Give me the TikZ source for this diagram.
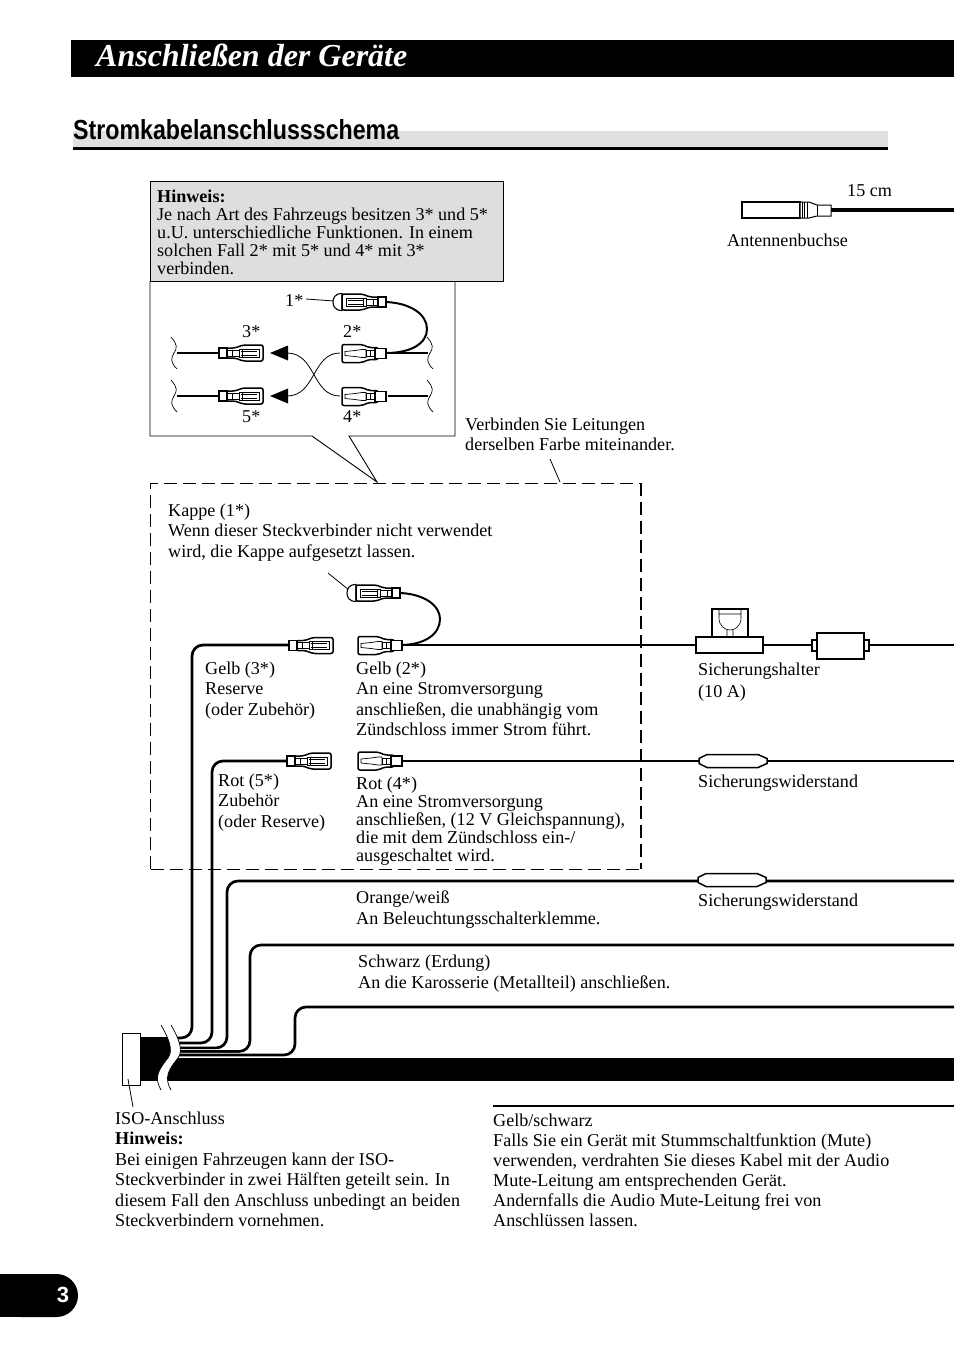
\documentclass[tikz,border=0pt]{standalone}
\usepackage{fontspec}
\usepackage{graphicx}
\setmainfont{Liberation Serif}
\newfontfamily\hsans{Liberation Sans}
\newcommand\mystrut{\rule{0pt}{13pt}}
\newcommand\tx[5]{\node[txt,font={\fontsize{18.1}{#4}\selectfont}] (#1) at (#2,{#3-7}) {\mystrut #5};}
\tikzset{
 x=1pt,y=-1pt,
 txt/.style={anchor=north west,inner sep=0pt,align=left},
 wire/.style={line width=2.7pt,rounded corners=11pt},
 cased/.style={wire,preaction={draw=white,line width=4.3pt}},
 plugline/.style={line width=1.5pt,fill=white,rounded corners=2pt},
 plugin/.style={line width=.7pt},
 plugF/.pic={
  \draw[plugline] (0,-9) -- (20,-9) -- (27,-6) -- (36,-6) -- (36,6) -- (27,6) -- (20,9) -- (0,9) -- cycle;
  \draw[plugline,rounded corners=0pt] (33,-5) rectangle (44,5);
  \draw[plugin] (3,-2) -- (13,-3) -- (20,-4) -- (24,-4) -- (24,4) -- (20,4) -- (13,3) -- (3,2) -- cycle;
  \draw[plugin] (24,-3) rectangle (33,3) (28,-3) -- (28,3);
 },
 plugM/.pic={
  \draw[plugline] (44,-8) -- (24,-8) -- (16,-5) -- (7,-5) -- (7,5) -- (16,5) -- (24,8) -- (44,8) -- cycle;
  \draw[plugline,rounded corners=0pt] (0,-5) rectangle (8,5);
  \draw[plugin] (8,-3) rectangle (20,3) (13,-3) -- (13,3) (20,-4) rectangle (40,4) (22,-2) -- (38,-2) (22,2) -- (38,2) (23,-4) -- (23,4);
 },
 squig/.pic={
  \draw[line width=.7pt] (-3,-16) .. controls (4,-8) and (3,-5) .. (0,0) .. controls (-3,5) and (-4,9) .. (3,16);
 },
 resist/.pic={
  \draw[line width=1.5pt,fill=white] (0,-2.5) -- (0,2.5) -- (8,6.5) -- (59,6.5) -- (68,2.5) -- (68,-2.5) -- (59,-6.5) -- (8,-6.5) -- cycle;
 },
}
\begin{document}
\begin{tikzpicture}
\useasboundingbox (0,0) rectangle (954,1355);
\fill[white] (0,0) rectangle (954,1355);
% title
\fill[black] (71,40) rectangle (954,77);
\node[txt,anchor=base west,text=white,font={\fontsize{32}{36}\selectfont\bfseries\itshape}] (title) at (96,66) {Anschließen der Geräte};
% heading
\fill[black!12] (73,131) rectangle (888,147);
\draw[line width=3pt] (73,148.5) -- (888,148.5);
\node[txt,anchor=base west] (head) at (73,139) {\resizebox{326pt}{20pt}{\hsans\bfseries Stromkabelanschlussschema}};
% note and callout
\draw[line width=.9pt,fill=white] (150,281) -- (150,436) -- (312,436) -- (377,482) -- (349,436) -- (455,436) -- (455,281);
\draw[line width=.9pt,fill=black!13] (150,181) rectangle (503,281);
\tx{note}{157}{196}{18}{\textbf{Hinweis:}\\Je nach Art des Fahrzeugs besitzen 3* und 5*\\u.U. unterschiedliche Funktionen. In einem\\solchen Fall 2* mit 5* und 4* mit 3*\\verbinden.}
% inset cables
\coordinate (sq3) at (174,353); \coordinate (sq5) at (174,396);
\coordinate (sq2) at (430,353); \coordinate (sq4) at (430,396);
\draw[line width=2.2pt] (177,353) -- (219,353) (177,396) -- (219,396) (388,396) -- (428,396) (388,353) -- (428,353);
\pic at (sq3) {squig}; \pic at (sq5) {squig}; \pic at (sq2) {squig}; \pic at (sq4) {squig};
\draw[line width=2pt] (386,302) .. controls (410,303) and (427,314) .. (427,329) .. controls (427,344) and (410,353) .. (386,353);
\draw[line width=.8pt] (306,299) -- (334,301);
\pic at (219,353) {plugM};
\pic at (219,396) {plugM};
\pic at (342,353.5) {plugF};
\pic at (342,396.5) {plugF};
\draw[line width=1.1pt,fill=white] (342,293.5) .. controls (335,293.5) and (333,298) .. (333,302) .. controls (333,306) and (335,310.5) .. (342,310.5) -- cycle;
\pic[xscale=-1] at (386,302) {plugM};
\draw[line width=.8pt] (340,353) .. controls (312,353) and (316,396) .. (287,396);
\draw[line width=.8pt] (340,396) .. controls (312,396) and (316,353) .. (287,353);
\fill (270,353) -- (288,345.5) -- (288,360.5) -- cycle;
\fill (270,396) -- (288,388.5) -- (288,403.5) -- cycle;
\tx{one}{285}{300}{20}{1*}
\tx{three}{242}{331}{20}{3*}
\tx{two}{343}{331}{20}{2*}
\tx{five}{242}{416}{20}{5*}
\tx{four}{343}{416}{20}{4*}
% antenna
\draw[line width=4pt] (830,210) -- (954,210);
\draw[line width=1.2pt,fill=white] (742,202) rectangle (800,218);
\draw[line width=1pt,fill=white] (800,202) -- (809,202) -- (817,205) -- (831,205) -- (831,216) -- (817,216) -- (809,218) -- (800,218) -- cycle;
\draw[line width=.7pt] (802,202) -- (802,218) (804.5,202) -- (804.5,218) (807,202) -- (807,218) (817,205) -- (817,216);
\tx{cm}{847}{190}{20}{15 cm}
\tx{antb}{727}{240}{20}{Antennenbuchse}
\tx{verb}{465}{424}{20}{Verbinden Sie Leitungen\\derselben Farbe miteinander.}
\draw[line width=.8pt] (550,459) -- (560,482);
\tx{kappe}{168}{510}{20.5}{Kappe (1*)\\Wenn dieser Steckverbinder nicht verwendet\\wird, die Kappe aufgesetzt lassen.}
% cable wires
\draw[cased] (290,645) -- (192,645) -- (192,1038) -- (172,1038);
\draw[cased] (288,761) -- (212,761) -- (212,1043) -- (172,1043);
\draw[cased] (954,881) -- (227,881) -- (227,1048) -- (172,1048);
\draw[cased] (954,945) -- (250,945) -- (250,1051.5) -- (172,1051.5);
\draw[cased] (954,1007) -- (295,1007) -- (295,1055) -- (172,1055);
% dashed box
\draw[line width=.9pt,dash pattern=on 13pt off 6pt] (150.5,869) -- (150.5,483) -- (641,483);
\draw[line width=.9pt,dash pattern=on 13pt off 6pt] (150.5,869) -- (641,869);
\draw[line width=1.5pt,dash pattern=on 13pt off 6pt] (641,483) -- (641,869);
% main cable
\fill[black] (140,1037) rectangle (172,1081);
\fill[black] (165,1058) rectangle (954,1081);
\fill[white] (161,1025) .. controls (168,1037) and (174,1050) .. (168,1058) .. controls (158,1070) and (154,1078) .. (161,1090) -- (171,1090) .. controls (164,1078) and (168,1070) .. (178,1058) .. controls (184,1050) and (178,1037) .. (171,1025) -- cycle;
\draw[line width=.7pt] (161,1025) .. controls (168,1037) and (174,1050) .. (168,1058) .. controls (158,1070) and (154,1078) .. (161,1090);
\draw[line width=.7pt] (171,1025) .. controls (178,1037) and (184,1050) .. (178,1058) .. controls (168,1070) and (164,1078) .. (171,1090);
\draw[line width=1pt,fill=white] (122,1033) rectangle (140,1085);
\draw[line width=.8pt] (128,1079) -- (133,1107);
% connectors in dashed box
\draw[line width=2pt] (400,593) .. controls (425,594) and (440,606) .. (440,619) .. controls (440,634) and (425,645) .. (400,645);
\draw[wire] (400,645) -- (954,645);
\draw[wire] (400,761) -- (954,761);
\draw[line width=.8pt] (328,573) -- (349,590);
\pic at (289,645.5) {plugM};
\pic at (358,645.5) {plugF};
\pic at (287,761) {plugM};
\pic at (358,761) {plugF};
\draw[line width=1.1pt,fill=white] (356,584.5) .. controls (349,584.5) and (347,589) .. (347,593) .. controls (347,597) and (349,601.5) .. (356,601.5) -- cycle;
\pic[xscale=-1] at (400,593) {plugM};
% fuse holder
\draw[line width=1.5pt,fill=white] (712,609) rectangle (748,637);
\draw[line width=.6pt] (719,609) -- (719,618) .. controls (719,626) and (725,630) .. (730,630) .. controls (735,630) and (741,626) .. (741,618) -- (741,609) (719,614) -- (741,614) (727,630) -- (727,637) (733,630) -- (733,637);
\draw[line width=1.5pt,fill=white] (696,637) rectangle (763,653);
\draw[line width=1.3pt,fill=white] (812,640) rectangle (869,651);
\draw[line width=1.5pt,fill=white] (817,633) rectangle (864,659);
% resistors
\pic at (699,761) {resist};
\pic at (698,880) {resist};
% labels
\tx{gelbd}{205}{668}{20.5}{Gelb (3*)\\Reserve\\(oder Zubehör)}
\tx{gelbz}{356}{668}{20.5}{Gelb (2*)\\An eine Stromversorgung\\anschließen, die unabhängig vom\\Zündschloss immer Strom führt.}
\tx{halter}{698}{669}{22}{Sicherungshalter\\(10 A)}
\tx{rotf}{218}{780}{20.5}{Rot (5*)\\Zubehör\\(oder Reserve)}
\tx{rotv}{356}{783}{18}{Rot (4*)\\An eine Stromversorgung\\anschließen, (12 V Gleichspannung),\\die mit dem Zündschloss ein-/\\ausgeschaltet wird.}
\tx{wida}{698}{781}{20}{Sicherungswiderstand}
\tx{widb}{698}{900}{20}{Sicherungswiderstand}
\tx{orange}{356}{897}{21}{Orange/weiß\\An Beleuchtungsschalterklemme.}
\tx{schwarz}{358}{961}{21}{Schwarz (Erdung)\\An die Karosserie (Metallteil) anschließen.}
\tx{iso}{115}{1118}{20.5}{ISO-Anschluss\\\textbf{Hinweis:}\\Bei einigen Fahrzeugen kann der ISO-\\Steckverbinder in zwei Hälften geteilt sein. In\\diesem Fall den Anschluss unbedingt an beiden\\Steckverbindern vornehmen.}
\draw[line width=2pt] (493,1106) -- (954,1106);
\tx{mute}{493}{1120}{20}{Gelb/schwarz\\Falls Sie ein Gerät mit Stummschaltfunktion (Mute)\\verwenden, verdrahten Sie dieses Kabel mit der Audio\\Mute-Leitung am entsprechenden Gerät.\\Andernfalls die Audio Mute-Leitung frei von\\Anschlüssen lassen.}
% page tab
\fill[black,rounded corners=21.5pt] (0,1274) -- (78,1274) -- (78,1317) -- (0,1317) -- cycle;
\fill[black] (0,1274) rectangle (30,1317);
\node[anchor=center,inner sep=0pt,text=white,font={\fontsize{22}{24}\selectfont\hsans\bfseries}] (pg) at (63,1295) {3};
\end{tikzpicture}
\end{document}
